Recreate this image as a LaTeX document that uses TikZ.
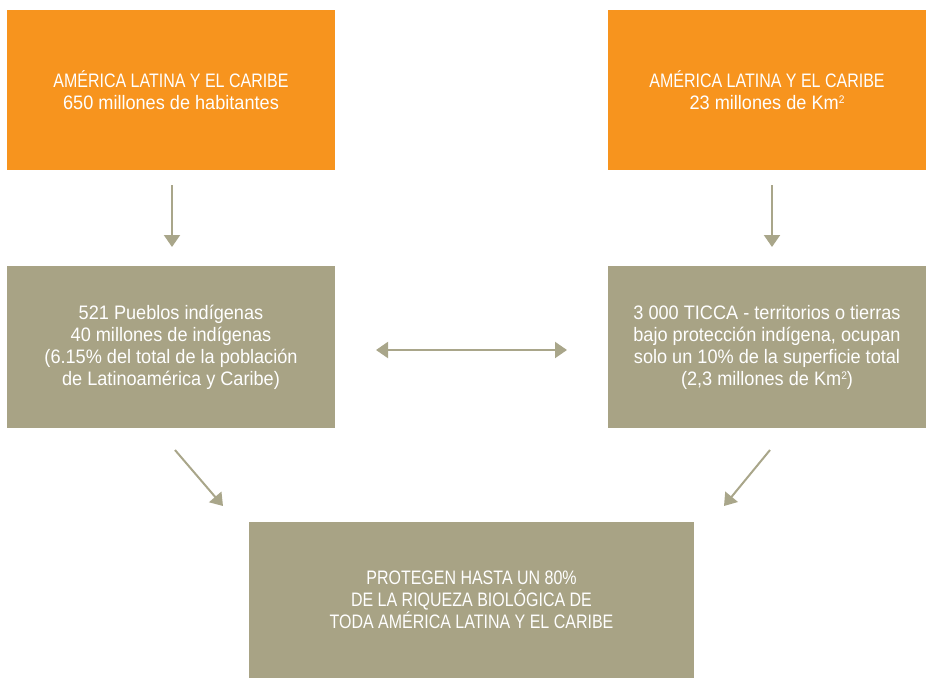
\documentclass[tikz,border=0pt]{standalone}
\usepackage{fontspec}
\setmainfont[FakeStretch=0.93]{Liberation Sans}
\newfontfamily\capsfont[FakeStretch=0.82]{Liberation Sans}
\usetikzlibrary{arrows.meta,calc}
\definecolor{orng}{HTML}{F7941E}
\definecolor{olv}{HTML}{A8A385}
\definecolor{arr}{HTML}{A9A68A}
\newcommand{\sqr}{\raisebox{0.55ex}{\fontsize{11}{11}\selectfont 2}}
\tikzset{
  box/.style={inner sep=0pt, align=center, text=white, font=\fontsize{19.5}{22}\selectfont},
  obox/.style={box, fill=orng},
  gbox/.style={box, fill=olv},
  conn/.style={draw=arr, line width=2pt, -{Triangle[width=16pt,length=12pt]}},
  conn2/.style={draw=arr, line width=2pt, {Triangle[width=16pt,length=12pt]}-{Triangle[width=16pt,length=12pt]}}
}
\begin{document}
\begin{tikzpicture}[x=1pt,y=-1pt]
\useasboundingbox (0,0) rectangle (927,678);
\node[obox, minimum width=328pt, minimum height=160pt] (tl) at (171,90) {{\capsfont AMÉRICA LATINA Y EL CARIBE}\\650 millones de habitantes};
\node[obox, minimum width=318pt, minimum height=160pt] (tr) at (767,90) {{\capsfont AMÉRICA LATINA Y EL CARIBE}\\23 millones de Km\sqr};
\node[gbox, minimum width=328pt, minimum height=162pt] (ml) at (171,347) {521 Pueblos indígenas\\40 millones de indígenas\\(6.15\% del total de la población\\de Latinoamérica y Caribe)};
\node[gbox, minimum width=318pt, minimum height=162pt] (mr) at (767,347) {3 000 TICCA - territorios o tierras\\bajo protección indígena, ocupan\\solo un 10\% de la superficie total\\(2,3 millones de Km\sqr)};
\node[gbox, minimum width=445pt, minimum height=156pt, font=\fontsize{19.5}{22}\capsfont] (bt) at (471.5,600) {PROTEGEN HASTA UN 80\%\\DE LA RIQUEZA BIOLÓGICA DE\\TODA AMÉRICA LATINA Y EL CARIBE};
\coordinate (a1s) at (172,185); \coordinate (a1e) at (172,247);
\coordinate (a2s) at (772,185); \coordinate (a2e) at (772,247);
\coordinate (hs) at (376,350); \coordinate (he) at (567,350);
\coordinate (d1s) at (175,450); \coordinate (d1e) at (223,506);
\coordinate (d2s) at (770,450); \coordinate (d2e) at (724,506);
\draw[conn] (a1s) -- (a1e);
\draw[conn] (a2s) -- (a2e);
\draw[conn2] (hs) -- (he);
\draw[conn] (d1s) -- (d1e);
\draw[conn] (d2s) -- (d2e);
\end{tikzpicture}
\end{document}
